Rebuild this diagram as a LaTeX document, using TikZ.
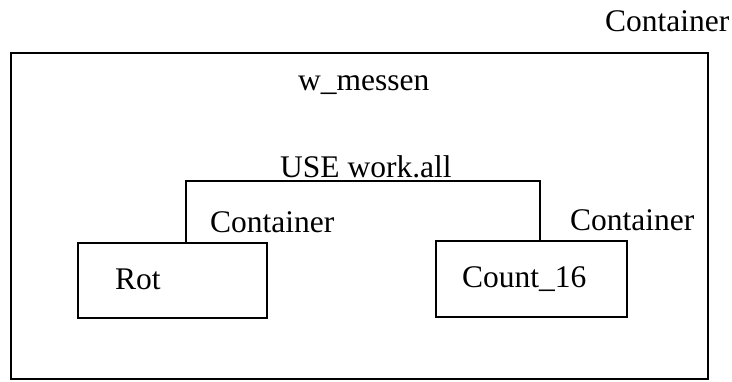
\documentclass[tikz,border=0pt]{standalone}
\usepackage{fontspec}
\setmainfont{Liberation Serif}
\begin{document}
\begin{tikzpicture}[x=1pt,y=-1pt,
  every node/.style={font=\fontsize{31.5}{38}\selectfont},
  frame/.style={draw,line width=1.8pt,rectangle,inner sep=0pt},
  caption/.style={anchor=base west,inner sep=0pt},
  wire/.style={line width=1.8pt}]
  \useasboundingbox (0,0) rectangle (732,381);

  % outer design unit
  \node[frame,minimum width=697pt,minimum height=326pt] (outer) at (359.5,216) {};
  \node[caption] (outerlbl) at (605,31) {Container};
  \node[caption] (title) at (298,90) {w\_messen};

  % component instances
  \node[frame,minimum width=189pt,minimum height=75pt] (rot) at (172.5,280.5) {};
  \node[caption] (rottxt) at (115,289) {Rot};
  \node[caption] (rotlbl) at (210,232) {Container};

  \node[frame,minimum width=191pt,minimum height=76pt] (count) at (531.5,279) {};
  \node[caption] (counttxt) at (462,287) {Count\_16};
  \node[caption] (countlbl) at (570,230) {Container};

  % shared library clause
  \coordinate (ul) at (186,181);
  \coordinate (ur) at (540,181);
  \node[caption] (use) at (280,177) {USE work.all};
  \draw[wire] (rot.north -| ul) -- (ul) -- (ur) -- (count.north -| ur);
\end{tikzpicture}
\end{document}
